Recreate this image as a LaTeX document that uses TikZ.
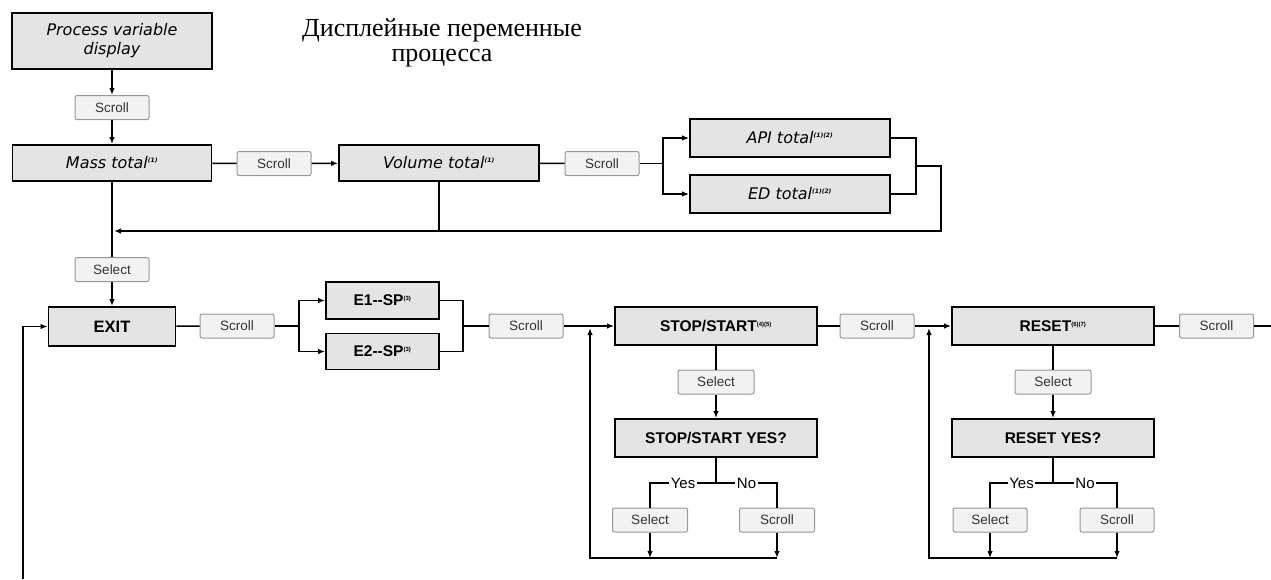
\documentclass[tikz,border=0pt]{standalone}
\usepackage{fontspec}
\setmainfont{Liberation Sans}
\newfontfamily\dejavu{DejaVu Sans}
\newfontfamily\serifru{Liberation Serif}
\usetikzlibrary{arrows.meta,calc}
\definecolor{boxgray}{RGB}{228,228,228}
\definecolor{btnfill}{RGB}{242,242,242}
\definecolor{btnline}{RGB}{150,150,150}
\newcommand{\supn}[1]{\textsuperscript{\fontsize{6}{6}\selectfont\bfseries #1}}
\begin{document}
\begin{tikzpicture}[x=1pt,y=-1pt,
 box/.style={draw=black,line width=1.8pt,fill=boxgray,inner sep=0pt,align=center},
 topbox/.style={box,font=\dejavu\itshape\fontsize{16}{19}\selectfont},
 lowbox/.style={box,font=\bfseries\fontsize{15.5}{18}\selectfont},
 btn/.style={draw=btnline,line width=1pt,fill=btnfill,rounded corners=2pt,inner sep=0pt,
   font=\fontsize{13.5}{15}\selectfont,text=black!80,minimum width=74pt,minimum height=24pt},
 ln/.style={line width=1.5pt},
 arr/.style={ln,-{Latex[length=7pt,width=5.5pt]}},
 yn/.style={fill=white,inner sep=1.5pt,font=\fontsize{15}{16}\selectfont}]
\useasboundingbox (0,0) rectangle (1271,579);

% title
\node[font=\serifru\fontsize{26}{25}\selectfont,align=center] (title) at (442,43) {Дисплейные переменные\\процесса};

% top row
\node[topbox,minimum width=200pt,minimum height=56pt] (pvd) at (112,41) {Process variable\\display};
\node[btn] (s1) at (112,107.5) {Scroll};
\node[topbox,minimum width=199pt,minimum height=36pt] (mass) at (112,163) {Mass total\supn{(1)}};
\node[btn] (s2) at (274,163.5) {Scroll};
\node[topbox,minimum width=200pt,minimum height=36pt] (vol) at (439,163) {Volume total\supn{(1)}};
\node[btn] (s3) at (602,163.5) {Scroll};
\node[topbox,minimum width=200pt,minimum height=38pt] (api) at (790,138) {API total\supn{(1)(2)}};
\node[topbox,minimum width=200pt,minimum height=38pt] (ed) at (790,194) {ED total\supn{(1)(2)}};

% second row
\node[btn] (sel0) at (112,269.5) {Select};
\node[lowbox,minimum width=127pt,minimum height=39pt,font=\bfseries\fontsize{16.5}{18}\selectfont] (exit) at (112,326.5) {EXIT};
\node[btn] (s4) at (237,326) {Scroll};
\node[lowbox,minimum width=113pt,minimum height=37pt] (e1) at (382.5,300.5) {E1{-}{-}SP\supn{(3)}};
\node[lowbox,minimum width=113pt,minimum height=36pt] (e2) at (382.5,351.5) {E2{-}{-}SP\supn{(3)}};
\node[btn] (s5) at (526,326) {Scroll};
\node[lowbox,minimum width=202pt,minimum height=38pt] (ss) at (716,326) {STOP/START\supn{(4)(5)}};
\node[btn] (s6) at (877,326) {Scroll};
\node[lowbox,minimum width=202pt,minimum height=38pt] (rs) at (1053,326) {RESET\supn{(6)(7)}};
\node[btn] (s7) at (1216.5,326) {Scroll};

% stop/start sub-flow
\node[btn,minimum width=76pt] (ssel) at (716,382) {Select};
\node[lowbox,minimum width=202pt,minimum height=38pt] (ssy) at (716,438) {STOP/START YES?};
\node[btn,minimum width=75pt] (ssl) at (650,520) {Select};
\node[btn,minimum width=75pt] (ssc) at (777,520) {Scroll};

% reset sub-flow
\node[btn,minimum width=76pt] (rsel) at (1053,382) {Select};
\node[lowbox,minimum width=202pt,minimum height=38pt] (rsy) at (1053,438) {RESET YES?};
\node[btn,minimum width=74pt] (rsl) at (990,520) {Select};
\node[btn,minimum width=74pt] (rsc) at (1117,520) {Scroll};

% coordinates
\coordinate (b1) at (663,163.5);
\coordinate (j1) at (916,166);
\coordinate (j2) at (941,231);
\coordinate (r1) at (114,231);
\coordinate (lb) at (23,579);
\coordinate (b2) at (299,326);
\coordinate (j3) at (463,326);
\coordinate (endr) at (1271,326);
\coordinate (ssm) at (716,483);
\coordinate (ssb) at (590,558);
\coordinate (ssu) at (590,328);
\coordinate (rsm) at (1053,483);
\coordinate (rsb) at (929,558);
\coordinate (rsu) at (929,328);

% top connectors
\draw[arr] (pvd) -- (s1);
\draw[arr] (s1) -- (mass);
\draw[ln] (mass) -- (s2);
\draw[arr] (s2) -- (vol);
\draw[ln] (vol) -- (s3);
\draw[ln] (s3) -- (b1);
\draw[arr] (b1) |- (api.west);
\draw[arr] (b1) |- (ed.west);
\draw[ln] (api.east) -| (j1);
\draw[ln] (ed.east) -| (j1);
\draw[arr] (j1) -| (j2) -- (r1);
\draw[ln] (vol) -- (vol.south |- j2);
\draw[ln] (mass) -- (sel0);
\draw[arr] (sel0) -- (exit);

% second row connectors
\draw[arr] (lb) |- (exit.west);
\draw[ln] (exit) -- (s4);
\draw[ln] (s4) -- (b2);
\draw[arr] (b2) |- (e1.west);
\draw[arr] (b2) |- (e2.west);
\draw[ln] (e1.east) -| (j3);
\draw[ln] (e2.east) -| (j3);
\draw[ln] (j3) -- (s5);
\draw[arr] (s5) -- (ss);
\draw[ln] (ss) -- (s6);
\draw[arr] (s6) -- (rs);
\draw[ln] (rs) -- (s7);
\draw[ln] (s7) -- (endr);

% stop/start loop
\draw[ln] (ss) -- (ssel);
\draw[arr] (ssel) -- (ssy);
\draw[ln] (ssy) -- (ssm);
\draw[ln] (ssm) -- node[yn]{Yes} (ssm -| ssl) -- (ssl);
\draw[ln] (ssm) -- node[yn]{No} (ssm -| ssc) -- (ssc);
\draw[arr] (ssl) -- (ssl |- ssb);
\draw[arr] (ssc) -- (ssc |- ssb);
\draw[arr] (ssc |- ssb) -- (ssb) -- (ssu);

% reset loop
\draw[ln] (rs) -- (rsel);
\draw[arr] (rsel) -- (rsy);
\draw[ln] (rsy) -- (rsm);
\draw[ln] (rsm) -- node[yn]{Yes} (rsm -| rsl) -- (rsl);
\draw[ln] (rsm) -- node[yn]{No} (rsm -| rsc) -- (rsc);
\draw[arr] (rsl) -- (rsl |- rsb);
\draw[arr] (rsc) -- (rsc |- rsb);
\draw[arr] (rsc |- rsb) -- (rsb) -- (rsu);
\end{tikzpicture}
\end{document}
